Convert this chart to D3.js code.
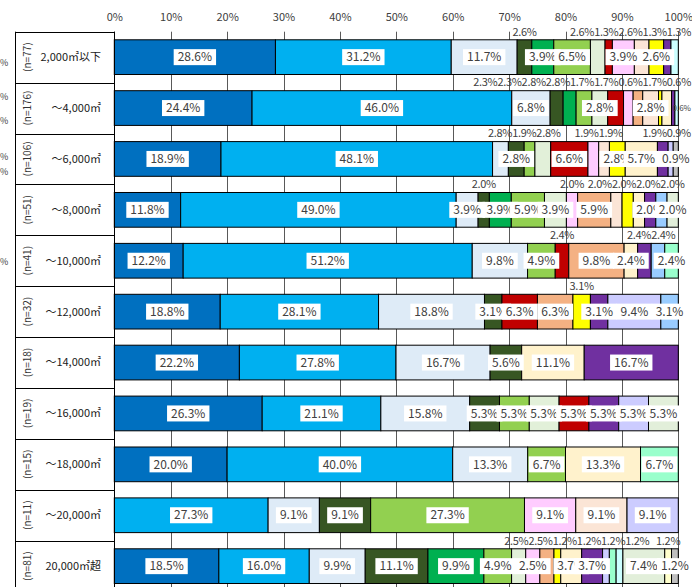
<!DOCTYPE html>
<html><head><meta charset="utf-8">
<script src="https://cdn.jsdelivr.net/npm/d3@7"></script>
<style>
body{margin:0;background:#fff}
svg{display:block}
text{font-family:"Noto Sans CJK JP","Noto Sans",sans-serif}
</style>
</head><body>
<svg id="c" width="692" height="587"></svg>
<script>
// ---------- data ----------
const categories = ["2,000㎡以下","～4,000㎡","～6,000㎡","～8,000㎡","～10,000㎡","～12,000㎡","～14,000㎡","～16,000㎡","～18,000㎡","～20,000㎡","20,000㎡超"];
const sampleSizes = [77,176,106,51,41,32,18,19,15,11,81];
const tickValues = [0,10,20,30,40,50,60,70,80,90,100];

// one array per series (values per category, in %)
const s01 = [28.6,24.4,18.9,11.8,12.2,18.8,22.2,26.3,20.0,0,18.5];
const s02 = [31.2,46.0,48.1,49.0,51.2,28.1,27.8,21.1,40.0,27.3,16.0];
const s03 = [11.7,6.8,2.8,3.9,9.8,18.8,16.7,15.8,13.3,9.1,9.9];
const s04 = [2.6,2.3,2.8,2.0,0,3.1,5.6,5.3,0,9.1,11.1];
const s05 = [3.9,2.3,0,3.9,0,0,0,0,0,0,9.9];
const s06 = [6.5,2.8,1.9,5.9,4.9,0,0,5.3,6.7,27.3,4.9];
const s07 = [2.6,2.8,2.8,3.9,0,0,0,5.3,0,0,2.5];
const s08 = [1.3,2.8,6.6,0,2.4,6.3,0,5.3,0,0,0];
const s09 = [3.9,1.7,1.9,2.0,0,0,0,0,0,9.1,2.5];
const s10 = [0,1.7,0,5.9,9.8,6.3,0,0,0,0,2.5];
const s11 = [2.6,2.8,1.9,2.0,0,0,0,0,0,9.1,0];
const s12 = [2.6,0.6,2.8,2.0,0,3.1,0,0,0,0,1.2];
const s13 = [0,1.7,5.7,2.0,2.4,0,11.1,0,13.3,0,3.7];
const s14 = [1.3,0.6,1.9,2.0,2.4,3.1,16.7,5.3,0,0,3.7];
const s15 = [0,0,0.9,0,0,9.4,0,5.3,0,9.1,1.2];
const s16 = [0,0,0,2.0,2.4,3.1,0,0,0,0,0];
const s17 = [0,0,0,0,2.4,0,0,0,6.7,0,1.2];
const s18 = [1.3,0.6,0,0,0,0,0,0,0,0,1.2];
const s19 = [0,0,0,2.0,0,0,0,5.3,0,0,7.4];
const s20 = [0,0,0,0,0,0,0,0,0,0,1.2];
const s21 = [0,0,0.9,0,0,0,0,0,0,0,1.2];

const seriesColors = ["#0070C0","#00B0F0","#DEEBF7","#375623","#00B050","#92D050","#E2F0D9","#C00000","#FFCCFF","#F4B183","#FBE5D6","#FFFF00","#FFF2CC","#7030A0","#CCCCFF","#99CCFF","#99FFCC","#CCFFFF","#E2EFDA","#FFFFCC","#BFBFBF"];

// series (1-based) whose labels sit above the bar, per category
const aboveLabels = [[4,7,8,11,14,18],[4,5,6,8,9,10,12,13,14],[3,6,7,9,11,14,15],[4,9,11,12,13,16],[8,14,16],[12],[],[],[],[],[7,10,12,15,17,18,20]];
// series whose labels sit to the right of the bar
const rightLabels = [[],[18],[],[],[],[],[],[],[],[],[]];

// ---------- build ----------
const seriesList = [s01,s02,s03,s04,s05,s06,s07,s08,s09,s10,s11,s12,s13,s14,s15,s16,s17,s18,s19,s20,s21];
const keys = seriesList.map((_,i)=>"S"+(i+1));
const rows = categories.map((c,i)=>{const o={cat:c,idx:i}; keys.forEach((k,j)=>o[k]=seriesList[j][i]); return o;});
const stacked = d3.stack().keys(keys).offset(d3.stackOffsetExpand)(rows);

const W=692,H=587;
const svg = d3.select("#c");
const x = d3.scaleLinear().domain([0,1]).range([114.3,678.3]);
const top0 = 31.7, step = 50.9;
const y = d3.scaleBand().domain(categories).range([top0, top0+step*categories.length]).paddingInner(0.318).paddingOuter(0.159);
const bw = y.bandwidth();
const gap = y.step()*y.paddingInner()/2;

// gridlines
const cx = v => Math.round(x(v/100))+0.5;
svg.append("g").selectAll("line").data(tickValues).join("line")
  .attr("x1",cx).attr("x2",cx).attr("y1",top0).attr("y2",H)
  .attr("stroke","#595959").attr("stroke-width",1);

// top axis labels
const axis = d3.axisTop(x).tickValues(tickValues.map(v=>v/100)).tickFormat(d=>Math.round(d*100)+"%").tickSize(0).tickPadding(0);
const ag = svg.append("g").attr("transform","translate(0,21)").call(axis);
ag.select(".domain").remove();
ag.selectAll("text").attr("font-size","11px").attr("fill","#404040").style("font-family",'"Noto Sans CJK JP",sans-serif');

// bars
const barG = svg.append("g");
stacked.forEach((layer,j)=>{
  barG.selectAll(null).data(layer.filter(d=>d.data[layer.key]>0)).join("rect")
    .attr("x",d=>x(d[0])).attr("width",d=>x(d[1])-x(d[0]))
    .attr("y",d=>y(d.data.cat)).attr("height",bw)
    .attr("fill",seriesColors[j]).attr("stroke","#000").attr("stroke-width",1);
});

// table (left)
const tg = svg.append("g");
d3.range(categories.length+1).forEach(k=>{
  const yy = Math.round(top0 + k*step)+0.5;
  tg.append("line").attr("x1",15).attr("x2",114.3).attr("y1",yy).attr("y2",yy).attr("stroke","#000");
});
tg.append("line").attr("x1",15.5).attr("x2",15.5).attr("y1",top0).attr("y2",H).attr("stroke","#000");
tg.append("line").attr("x1",114.5).attr("x2",114.5).attr("y1",top0).attr("y2",H).attr("stroke","#000");
categories.forEach((c,i)=>{
  const yc = y(c)+bw/2;
  tg.append("text").attr("x",101).attr("y",yc).attr("dy","0.35em").attr("text-anchor","end")
    .attr("font-size","11px").attr("fill","#1a1a1a").text(c);
  tg.append("text").attr("transform",`translate(27,${yc}) rotate(-90)`).attr("dy","0.35em").attr("text-anchor","middle")
    .attr("font-size","10px").attr("fill","#333").text(`(n=${sampleSizes[i]})`);
});

// stray % marks at left edge (fragments of a neighbouring chart)
[63,97,121,157,172,262].forEach(v=>{
  svg.append("text").attr("x",0).attr("y",v).attr("dy","0.35em").attr("font-size","9px").attr("fill","#404040").text("%");
});

// data labels
const lg = svg.append("g");
const fmt = v => v.toFixed(1)+"%";
categories.forEach((c,i)=>{
  const yTop = y(c), yc = yTop+bw/2;
  const above=[];
  stacked.forEach((layer,j)=>{
    const d = layer[i]; const v = seriesList[j][i];
    if(!(v>0)) return;
    const mid = x((d[0]+d[1])/2);
    const sn = j+1;
    if(aboveLabels[i].includes(sn)){
      const t = lg.append("text").attr("font-size","11px").attr("letter-spacing","-0.3px").attr("fill","#404040").attr("text-anchor","middle")
        .attr("y",yTop-gap).attr("dy","0.35em").text(fmt(v));
      above.push({t, cx:mid, w:t.node().getComputedTextLength()});
    } else if(rightLabels[i].includes(sn)){
      lg.append("text").attr("font-size","8px").attr("fill","#404040").attr("text-anchor","end").attr("x",W-1).attr("y",yc).attr("dy","0.35em").text(fmt(v));
    } else {
      const g = lg.append("g");
      const r = g.append("rect").attr("fill","#fff");
      const t = g.append("text").attr("font-size","12px").attr("fill","#404040").attr("text-anchor","middle")
        .attr("x",mid).attr("y",yc).attr("dy","0.35em").text(fmt(v));
      const tw = t.node().getComputedTextLength();
      r.attr("x",mid-tw/2-4).attr("y",yc-8).attr("width",tw+8).attr("height",16);
    }
  });
  // resolve overlaps among above-labels (1D clustering)
  above.sort((a,b)=>a.cx-b.cx);
  let clusters = above.map(a=>({items:[a], w:a.w, c:a.cx}));
  const maxR = W-1;
  let changed=true;
  while(changed){
    changed=false;
    clusters.forEach(cl=>{ if(cl.c+cl.w/2>maxR) cl.c=maxR-cl.w/2; });
    for(let k=0;k<clusters.length-1;k++){
      const a=clusters[k], b=clusters[k+1];
      if(a.c+a.w/2 > b.c-b.w/2+0.5){
        const items=a.items.concat(b.items);
        clusters.splice(k,2,{items, w:a.w+b.w, c:d3.mean(items,d=>d.cx)});
        changed=true; break;
      }
    }
  }
  clusters.forEach(cl=>{
    let xx = cl.c-cl.w/2;
    cl.items.forEach(it=>{ it.t.attr("x", xx+it.w/2); xx+=it.w; });
  });
});
</script>
</body></html>
